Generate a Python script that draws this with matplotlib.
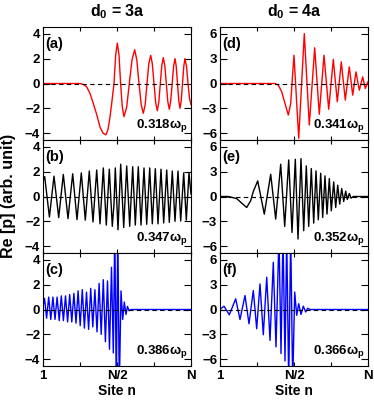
import matplotlib
matplotlib.use('Agg')
import matplotlib.pyplot as plt

plt.rcParams.update({
    'font.family': ['Liberation Sans', 'DejaVu Sans'],
    'font.weight': 'bold',
    'mathtext.fontset': 'custom',
    'mathtext.rm': 'Liberation Sans:bold',
    'mathtext.it': 'Liberation Sans:bold:italic',
    'mathtext.bf': 'Liberation Sans:bold',
})

N = 149  # number of sites

# ---- panel (a): d0 = 3a, 0.318 wp ----
a_n = [1, 38, 41.5, 44.7, 48, 51.3, 54.7, 58, 61, 64, 66, 68, 70, 72, 73.7, 75.3, 77, 78.6,
       80.3, 82, 84.7, 87.3, 90, 92.7, 94.8, 97, 99.2, 101.3, 103.2, 105, 106.8, 108.7, 110.3,
       112, 113.7, 115.3, 116.8, 118.3, 119.8, 121.3, 122.8, 124.3, 125.8, 127.3, 128.7, 130.2,
       131.6, 133, 134.2, 135.5, 136.8, 138, 139.2, 140.5, 141.8, 143, 144.5, 146, 147.5, 149]
a_v = [0, 0, -0.08, -0.27, -0.8, -1.6, -2.5, -3.5, -4.0, -4.13, -3.7, -2.7, -1.4, 0, 2.3, 3.25,
       2.3, 0, -1.9, -2.67, -1.9, 0, 1.9, 2.72, 1.9, 0, -1.7, -2.4, -1.7, 0, 1.6, 2.27, 1.6,
       0, -1.55, -2.19, -1.5, 0, 1.45, 2.08, 1.45, 0, -1.45, -2.08, -1.4, 0,
       1.4, 2.0, 1.4, 0, -1.4, -2.0, -1.4, 0, 1.4, 2.0, 1.4, 0, -1.2, -1.7]

# ---- panel (b): d0 = 3a, 0.347 wp ----
b_n = [1, 2.7, 7.4, 12, 16.7, 21.3, 26, 30.7, 35, 39.3, 43.3, 47.3, 51, 54.7, 58, 61.3, 64.3,
       67.3, 70.3, 72, 73.3, 76, 78.7, 81.7, 84.7, 87.7, 90.7, 93.3, 96.3, 99, 102, 104.7,
       107.7, 110.3, 113.3, 116, 119, 121.7, 124.7, 127.3, 130.3, 133, 136, 138.7, 141.7,
       144.3, 147, 149]
b_v = [1.2, 1.6, -1.65, 1.64, -1.7, 1.78, -1.78, 1.83, -1.86, 1.9, -1.9, 2.05, -2.05, 2.13,
       -2.2, 2.3, -2.3, 2.2, -2.4, -0.6, 2.3, -2.68, 2.6, -2.5, 2.46, -2.4, 2.4, -2.3, 2.4,
       -2.3, 2.3, -2.24, 2.3, -2.2, 2.24, -2.2, 2.2, -2.13, 2.13, -2.08, 2.05, -2.0, 2.05,
       -1.97, 1.9, -1.9, 1.9, 0.2]

# ---- panel (c): d0 = 3a, 0.386 wp ----
c_n = [1, 2.5, 4.6, 6.7, 8.8, 10.9, 13, 15.1, 17.2, 19.3, 21.4, 23.5, 25.6, 27.7, 29.8, 31.9,
       34, 36.1, 38.2, 40.3, 42.4, 44.5, 46.6, 48.7, 50.8, 52.9, 55, 57.1, 59.2, 61.3, 63.4,
       65.5, 67.5, 69.5, 71.3, 72.8, 74.3, 75.8, 77.3, 79, 80.7, 82.3, 84, 85.5, 87, 89, 149]
c_v = [0.2, 0.9, -0.7, 1.0, -0.8, 1.0, -0.8, 1.0, -0.9, 1.1, -0.9, 1.1, -1.0, 1.2, -1.0, 1.3,
       -1.1, 1.5, -1.3, 1.6, -1.5, 1.4, -1.6, 1.7, -1.4, 1.6, -1.8, 2.1, -2.0, 2.4, -2.6,
       2.3, -3.2, 3.4, -3.5, 6.5, -6.5, 6.5, -6.5, 1.5, -0.8, 0.6, -0.4, 0.25, -0.1, 0, 0]

# ---- panel (d): d0 = 4a, 0.341 wp ----
d_n = [1, 56, 59.3, 62.7, 66, 69.3, 71.7, 73, 75, 79.7, 85.3, 90.3, 95.7, 100.3, 105, 109.7,
       114.3, 118.3, 122.3, 126.3, 130.3, 133.7, 137, 140.3, 143.7, 146.3, 149]
d_v = [0, 0, -0.2, -1.0, -2.4, -3.8, -2.4, 0, 3.4, -6.6, 6.0, -5.0, 4.3, -3.7, 3.4, -3.1,
       2.9, -2.2, 2.6, -2.0, 2.0, -1.4, 1.4, -0.8, 0.8, -0.6, 0.2]

# ---- panel (e): d0 = 4a, 0.352 wp ----
e_n = [1, 9.3, 17.7, 22.7, 27.7, 31.7, 34.3, 38.7, 45.3, 51.7, 56.7, 61.7, 65.7, 69.7, 73,
       76.3, 79, 82, 84.7, 87.3, 89.7, 92.3, 94.7, 97, 99.3, 101.7, 103.7, 106, 108, 110.3,
       112.3, 114.7, 116.7, 118.7, 120.7, 122.7, 124.7, 126.7, 128.3, 130.3, 132, 134.3, 149]
e_v = [0, 0, -0.25, -0.8, -1.32, -0.5, 0.6, 1.88, -2.12, 2.68, -2.72, 3.88, -3.6, 4.4, -4.32,
       4.48, -5.12, 4.56, -4.12, 3.68, -3.6, 3.36, -3.2, 3.08, -2.8, 2.8, -2.52, 2.48, -2.12,
       2.16, -1.72, 1.76, -1.32, 1.36, -0.92, 0.96, -0.6, 0.64, -0.36, 0.36, -0.2, 0, 0]

# ---- panel (f): d0 = 4a, 0.366 wp ----
f_n = [1, 5, 10.3, 16.7, 21, 26, 30, 34.3, 37.7, 41, 44.3, 47.7, 51, 54.3, 57, 60, 62, 64,
       66, 67.7, 69.7, 71.7, 73.7, 75.7, 77.7, 79.7, 82, 84.3, 86.7, 88.7, 91, 149]
f_v = [0, 0.4, -0.64, 1.28, -1.2, 1.68, -1.72, 2.28, -2.32, 3.08, -3.04, 3.88, -3.72, 5.68,
       -4.5, 9, -5.3, 9, -6.2, 9, -9, 9, -9, 2.1, -0.7, 0.7, -0.6, 0.4, -0.3, 0.15, 0, 0]

panels = [
    (a_n, a_v, '#ff0000', '(a)', '0.318', 0, 0),
    (b_n, b_v, '#000000', '(b)', '0.347', 0, 1),
    (c_n, c_v, '#0000ff', '(c)', '0.386', 0, 2),
    (d_n, d_v, '#ff0000', '(d)', '0.341', 1, 0),
    (e_n, e_v, '#000000', '(e)', '0.352', 1, 1),
    (f_n, f_v, '#0000ff', '(f)', '0.366', 1, 2),
]
titles = ['d$_0$ = 3a', 'd$_0$ = 4a']
xtick_labels = ['1', 'N/2', 'N']
yticks_col = [[-4, -2, 0, 2, 4], [-6, -3, 0, 3, 6]]
ylims_col = [(-4.55, 4.55), (-6.8, 6.8)]

W, H = 374, 400
fig = plt.figure(figsize=(W / 100, H / 100), dpi=100)
lefts = [43 / W, 220 / W]
width = 148 / W
bottoms = [1 - 140 / H, 1 - 253 / H, 1 - 366 / H]
height = 113 / H

for n, v, col, lab, freq, ci, ri in panels:
    ax = fig.add_axes([lefts[ci], bottoms[ri], width, height])
    ax.plot(n, v, color=col, lw=1.0, zorder=2)
    ax.axhline(0, color='k', lw=0.8, ls=(0, (4, 3)), zorder=3)
    ax.set_xlim(1, N)
    ax.set_ylim(*ylims_col[ci])
    ax.set_xticks([1, (N + 1) / 2, N])
    ax.set_xticks([(1 + (N + 1) / 2) / 2, ((N + 1) / 2 + N) / 2], minor=True)
    ax.set_yticks(yticks_col[ci])
    if ri == 2:
        ax.set_xticklabels(xtick_labels)
    else:
        ax.set_xticklabels([])
    ax.tick_params(axis='both', which='both', direction='in', top=True, right=True,
                   labelsize=9.5, width=0.8)
    ax.tick_params(axis='x', which='both', length=3, pad=3)
    ax.tick_params(axis='y', which='major', length=5, pad=2)
    for s in ax.spines.values():
        s.set_linewidth(0.8)
    ax.text(0.012, 0.85, lab, transform=ax.transAxes, ha='left', va='center', fontsize=10.5)
    ax.text(0.975, 0.13, freq + 'ω' + r'$_\mathregular{p}$', transform=ax.transAxes,
            ha='right', va='center', fontsize=9.5)

for ci in range(2):
    cx = lefts[ci] + width / 2
    fig.text(cx, 1 - 12 / H, titles[ci], ha='center', va='center', fontsize=11.5)
    fig.text(cx, 1 - 391 / H, 'Site n', ha='center', va='center', fontsize=10)

fig.text(9 / W, 1 - 196 / H, 'Re [p] (arb. unit)', rotation=90, ha='center', va='center',
         fontsize=11.5)

fig.savefig('out.png', dpi=100)
